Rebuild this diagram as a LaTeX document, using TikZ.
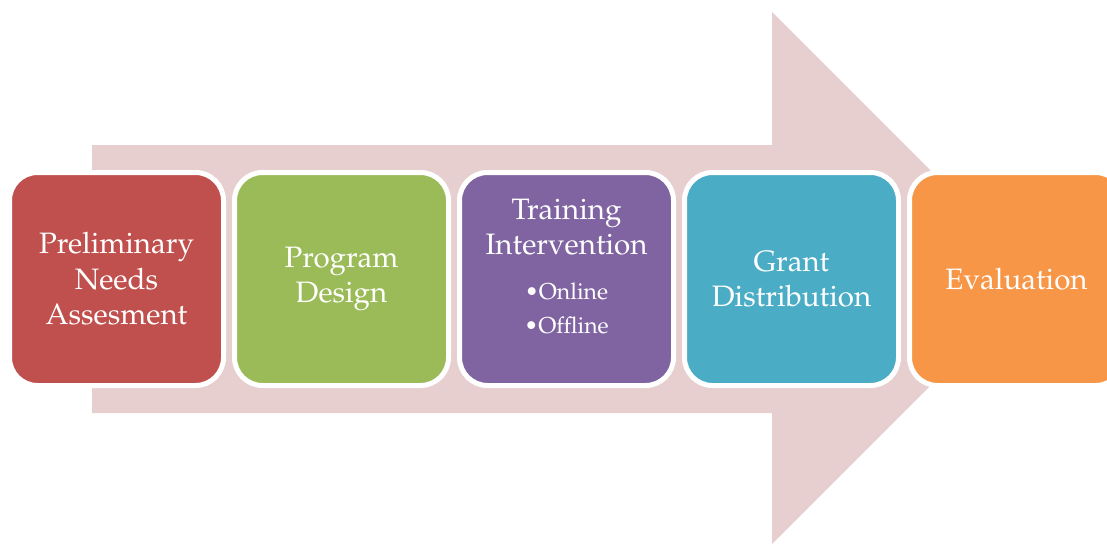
\documentclass[tikz,border=0pt]{standalone}
\usepackage[T1]{fontenc}
\usepackage{textcomp}
\usepackage{palatino}
\definecolor{arrowpink}{HTML}{E7CFD0}
\definecolor{stepred}{HTML}{C0504D}
\definecolor{stepgreen}{HTML}{9BBB59}
\definecolor{steppurple}{HTML}{8064A2}
\definecolor{stepblue}{HTML}{4BACC6}
\definecolor{steporange}{HTML}{F79646}
\begin{document}
\begin{tikzpicture}[x=1pt,y=-1pt,
  stepbox/.style={rectangle, rounded corners=28pt, draw=white, line width=5pt,
    minimum width=214pt, minimum height=213pt, inner sep=0pt,
    text=white, align=center,
    font=\fontsize{29.5}{35.5}\selectfont},
  steptext/.style={text=white, align=center, inner sep=0pt,
    font=\fontsize{29.5}{34.5}\selectfont},
  subtext/.style={text=white, align=center, inner sep=0pt,
    font=\fontsize{23}{34}\selectfont}]
  \useasboundingbox (0,0) rectangle (1107,544);
  \clip (0,0) rectangle (1107,544);
  % broad background arrow
  \fill[arrowpink] (92,145) -- (772,145) -- (772,12) -- (1038,278)
    -- (772,544) -- (772,413) -- (92,413) -- cycle;
  % process steps
  \node[stepbox, fill=stepred]    (s1) at (116.5,279) {Preliminary\\Needs\\Assesment};
  \node[stepbox, fill=stepgreen]  (s2) at (341.5,279) {Program\\Design};
  \node[stepbox, fill=steppurple] (s3) at (566.5,279) {};
  \node[stepbox, fill=stepblue]   (s4) at (791.5,279) {Grant\\Distribution};
  \node[stepbox, fill=steporange] (s5) at (1016.5,279) {Evaluation};
  % text of the third step
  \node[steptext] (t3) at ([yshift=52pt]s3.center) {Training\\Intervention};
  \node[subtext] (b3) at ([yshift=-29pt]s3.center) {\textbullet Online\\\textbullet Offline};
\end{tikzpicture}
\end{document}
